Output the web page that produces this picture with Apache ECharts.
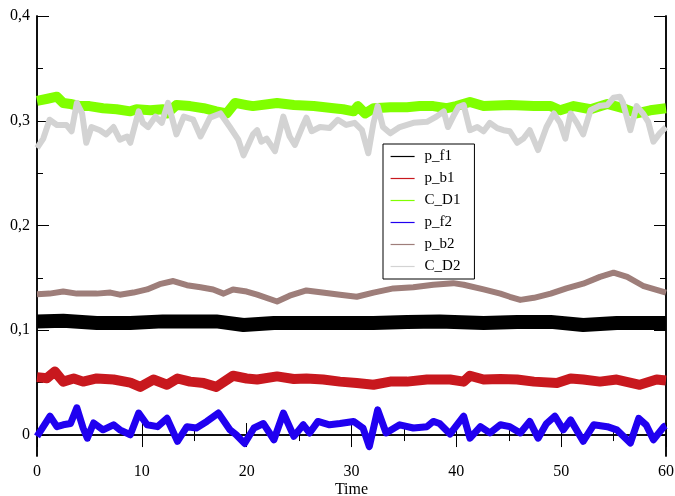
<!DOCTYPE html>
<html>
<head>
<meta charset="utf-8">
<script src="https://cdn.jsdelivr.net/npm/echarts@6/dist/echarts.min.js"></script>
<style>
  html, body { margin: 0; padding: 0; background: #fff; }
  #chart { width: 675px; height: 496px; }
</style>
</head>
<body>
<div id="chart"></div>
<script>
// Time series [time, value] for each quantity
const pF1 = [[0,0.1085],[2.5,0.109],[5.7,0.107],[8.9,0.107],[12.0,0.1085],[15.2,0.1085],[17.1,0.1085],[19.7,0.105],[22.6,0.107],[25.7,0.107],[28.9,0.107],[32.1,0.107],[35.3,0.108],[38.4,0.1085],[42.6,0.107],[45.8,0.108],[49.0,0.108],[52.1,0.105],[55.3,0.107],[58.5,0.107],[60,0.107]];

const pB1 = [[0,0.0553],[0.95,0.0543],[1.7,0.0607],[2.5,0.051],[3.5,0.054],[4.4,0.051],[5.7,0.054],[7.3,0.053],[8.9,0.050],[9.85,0.046],[11.1,0.053],[12.4,0.048],[13.4,0.054],[14.6,0.051],[15.9,0.0496],[17.1,0.046],[18.7,0.0566],[20.0,0.054],[21.0,0.053],[22.9,0.056],[24.5,0.0535],[25.7,0.054],[27.3,0.053],[28.9,0.051],[30.5,0.0496],[32.1,0.048],[33.7,0.051],[35.3,0.051],[37.2,0.053],[39.4,0.053],[40.7,0.051],[41.3,0.0566],[42.6,0.053],[44.2,0.0535],[45.8,0.053],[47.4,0.051],[49.6,0.0496],[50.9,0.054],[52.1,0.053],[53.7,0.051],[55.3,0.053],[57.5,0.048],[59.1,0.053],[60,0.052]];

const cD1 = [[0,0.319],[1.0,0.321],[1.9,0.323],[2.5,0.317],[3.2,0.316],[4.1,0.314],[5.0,0.314],[6.3,0.312],[7.6,0.311],[8.9,0.309],[9.5,0.311],[10.8,0.310],[12.0,0.311],[12.4,0.307],[13.3,0.315],[14.6,0.314],[15.9,0.312],[17.1,0.309],[18.1,0.307],[18.9,0.317],[20.0,0.315],[20.6,0.314],[22.9,0.317],[24.5,0.315],[26.4,0.314],[28.3,0.312],[29.2,0.311],[30.2,0.309],[30.6,0.314],[31.3,0.307],[32.1,0.312],[33.7,0.313],[35.3,0.313],[36.5,0.314],[37.8,0.314],[39.1,0.312],[40.0,0.314],[41.3,0.318],[42.6,0.314],[45.1,0.315],[47.4,0.314],[49.0,0.314],[49.9,0.310],[51.2,0.314],[52.8,0.311],[54.4,0.316],[55.9,0.312],[57.2,0.307],[58.5,0.310],[60,0.312]];

const pF2 = [[0,-0.0013],[0.6,0.008],[1.24,0.018],[1.9,0.008],[2.5,0.0098],[3.2,0.011],[3.8,0.026],[4.4,0.0067],[4.8,-0.003],[5.4,0.0115],[6.3,0.005],[7.3,0.0098],[7.9,0.005],[8.9,0.0003],[9.7,0.021],[10.5,0.0098],[11.5,0.008],[12.4,0.016],[13.4,-0.006],[14.3,0.008],[15.2,0.0067],[16.2,0.013],[17.3,0.021],[18.4,0.005],[19.0,0.0003],[19.8,-0.008],[20.7,0.0067],[21.6,0.011],[22.6,-0.0045],[23.5,0.021],[24.5,-0.0013],[25.4,0.0098],[26.0,0.002],[26.8,0.013],[27.9,0.0098],[28.9,0.011],[30.2,0.013],[31.1,0.0067],[31.7,-0.011],[32.5,0.024],[33.3,0.002],[34.6,0.0098],[35.9,0.0067],[37.2,0.008],[37.8,0.013],[38.4,0.011],[39.4,0.001],[40.7,0.018],[41.3,-0.003],[42.3,0.008],[43.2,0.002],[44.2,0.0098],[45.1,0.008],[46.1,0.002],[47.0,0.013],[47.8,-0.003],[48.6,0.011],[49.4,0.018],[50.2,0.005],[50.9,0.0145],[52.1,-0.006],[53.1,0.0098],[54.4,0.008],[55.3,0.005],[56.6,-0.0077],[57.4,0.016],[58.1,0.0098],[58.8,-0.0045],[59.8,0.008],[60,0.009]];

const pB2 = [[0,0.1345],[1.2,0.135],[2.5,0.137],[3.8,0.135],[5.7,0.135],[7.0,0.136],[7.9,0.134],[9.2,0.136],[10.5,0.139],[11.7,0.144],[13.0,0.147],[14.3,0.143],[15.6,0.141],[16.8,0.139],[17.8,0.135],[18.7,0.139],[20.0,0.137],[21.0,0.134],[22.9,0.1275],[24.1,0.133],[25.7,0.138],[27.6,0.1355],[28.9,0.134],[30.5,0.132],[32.1,0.136],[34.0,0.140],[35.9,0.141],[37.8,0.1435],[39.7,0.145],[40.7,0.1435],[42.6,0.139],[44.2,0.135],[45.1,0.132],[46.1,0.129],[47.4,0.131],[49.0,0.135],[50.5,0.140],[52.1,0.1445],[53.7,0.151],[55.0,0.155],[56.3,0.151],[57.8,0.1425],[60,0.136]];

const cD2 = [[0,0.274],[0.6,0.283],[1.2,0.301],[1.9,0.296],[2.8,0.296],[3.3,0.290],[3.8,0.317],[4.3,0.307],[4.7,0.279],[5.2,0.294],[6.0,0.291],[6.6,0.287],[7.3,0.294],[7.9,0.282],[8.6,0.285],[8.9,0.279],[9.7,0.309],[10.1,0.298],[10.6,0.294],[11.3,0.304],[11.9,0.298],[12.5,0.317],[13.3,0.287],[14.0,0.304],[14.9,0.301],[15.6,0.285],[16.5,0.303],[17.5,0.307],[18.4,0.294],[19.2,0.282],[19.7,0.267],[20.2,0.278],[20.6,0.287],[21.0,0.291],[21.4,0.280],[21.9,0.283],[22.7,0.271],[23.5,0.304],[24.1,0.285],[24.6,0.277],[25.3,0.294],[25.7,0.303],[26.2,0.290],[27.0,0.294],[27.9,0.293],[28.7,0.301],[29.5,0.296],[30.3,0.298],[31.0,0.291],[31.6,0.269],[32.1,0.298],[32.5,0.314],[33.0,0.294],[33.7,0.288],[34.6,0.294],[35.9,0.298],[37.2,0.299],[38.1,0.304],[38.8,0.309],[39.2,0.294],[39.7,0.304],[40.2,0.313],[40.7,0.315],[41.3,0.291],[42.0,0.294],[42.6,0.290],[43.2,0.298],[43.9,0.293],[44.5,0.291],[45.1,0.290],[45.8,0.279],[46.4,0.283],[47.0,0.291],[47.8,0.272],[48.6,0.294],[49.3,0.307],[49.9,0.298],[50.4,0.283],[50.9,0.307],[51.5,0.298],[52.1,0.287],[52.8,0.310],[53.6,0.314],[54.4,0.315],[55.0,0.322],[55.6,0.323],[55.9,0.317],[56.6,0.291],[57.2,0.314],[57.8,0.307],[58.3,0.299],[58.8,0.280],[59.4,0.288],[60,0.294]];

const seriesNames = ['p_f1', 'p_b1', 'C_D1', 'p_f2', 'p_b2', 'C_D2'];
const seriesData = [pF1, pB1, cD1, pF2, pB2, cD2];
const seriesColors = ['#000000', '#c8181e', '#80ff00', '#2000f0', '#9e7e7a', '#d3d3d3'];
const bandWidths = [14, 10, 10, 7, 6, 6];

const yMajor = [0, 0.1, 0.2, 0.3, 0.4];
const yMinor = [0.05, 0.15, 0.25, 0.35];

const FONT = 'Liberation Serif';
const axisColor = '#000';

function fmtY(v) {
  if (Math.abs(v) < 1e-9) return '0';
  return v.toFixed(1).replace('.', ',');
}

function xAxisDef(pos, showLabels) {
  return {
    type: 'value', position: pos, min: 0, max: 60, interval: 10,
    name: showLabels ? 'Time' : '', nameLocation: 'middle', nameGap: 26,
    nameMoveOverlap: false,
    nameTextStyle: { fontFamily: FONT, fontSize: 16, color: '#000' },
    axisLine: { show: true, lineStyle: { color: axisColor, width: 1.5 } },
    axisTick: { show: true, inside: true, length: 12, lineStyle: { color: axisColor, width: 1 } },
    minorTick: { show: true, splitNumber: 2, length: 6, lineStyle: { color: axisColor, width: 1 } },
    axisLabel: { show: showLabels, margin: 8, fontFamily: FONT, fontSize: 16, color: '#000' },
    splitLine: { show: false }
  };
}

function yAxisDef(pos, ticks, len, showLabels) {
  return {
    type: 'value', position: pos, min: -0.02, max: 0.4,
    axisLine: { show: true, lineStyle: { color: axisColor, width: 1.5 } },
    axisTick: { show: true, inside: true, length: len, customValues: ticks, lineStyle: { color: axisColor, width: 1 } },
    axisLabel: { show: showLabels, customValues: ticks, margin: 7, fontFamily: FONT, fontSize: 16, color: '#000', formatter: fmtY },
    splitLine: { show: false }
  };
}

const chart = echarts.init(document.getElementById('chart'), null, { renderer: 'canvas' });
chart.setOption({
  animation: false,
  backgroundColor: '#fff',
  grid: { left: 37, right: 9, top: 16, bottom: 40, containLabel: false, outerBoundsMode: 'none' },
  xAxis: [xAxisDef('bottom', true), xAxisDef('top', false)],
  yAxis: [
    yAxisDef('left', yMajor, 12, true),
    yAxisDef('left', yMinor, 6, false),
    yAxisDef('right', yMajor, 12, false),
    yAxisDef('right', yMinor, 6, false)
  ],
  legend: {
    orient: 'vertical', left: 383, top: 144,
    data: seriesNames,
    itemWidth: 24, itemHeight: 14, itemGap: 7,
    padding: [5, 14, 5, 7],
    backgroundColor: '#fff', borderColor: '#000', borderWidth: 1, borderRadius: 0,
    lineStyle: { width: 1.2 },
    itemStyle: { opacity: 0, borderWidth: 0 },
    textStyle: { fontFamily: FONT, fontSize: 15, color: '#000', padding: [0, 0, 0, 5] }
  },
  series: seriesNames.map((name, i) => ({
    name: name, type: 'line', xAxisIndex: 0, yAxisIndex: 0,
    data: seriesData[i], symbol: 'none', showSymbol: false,
    lineStyle: { color: seriesColors[i], width: bandWidths[i], join: 'round' },
    itemStyle: { color: seriesColors[i] },
    emphasis: { disabled: true }
  }))
});
</script>
</body>
</html>
